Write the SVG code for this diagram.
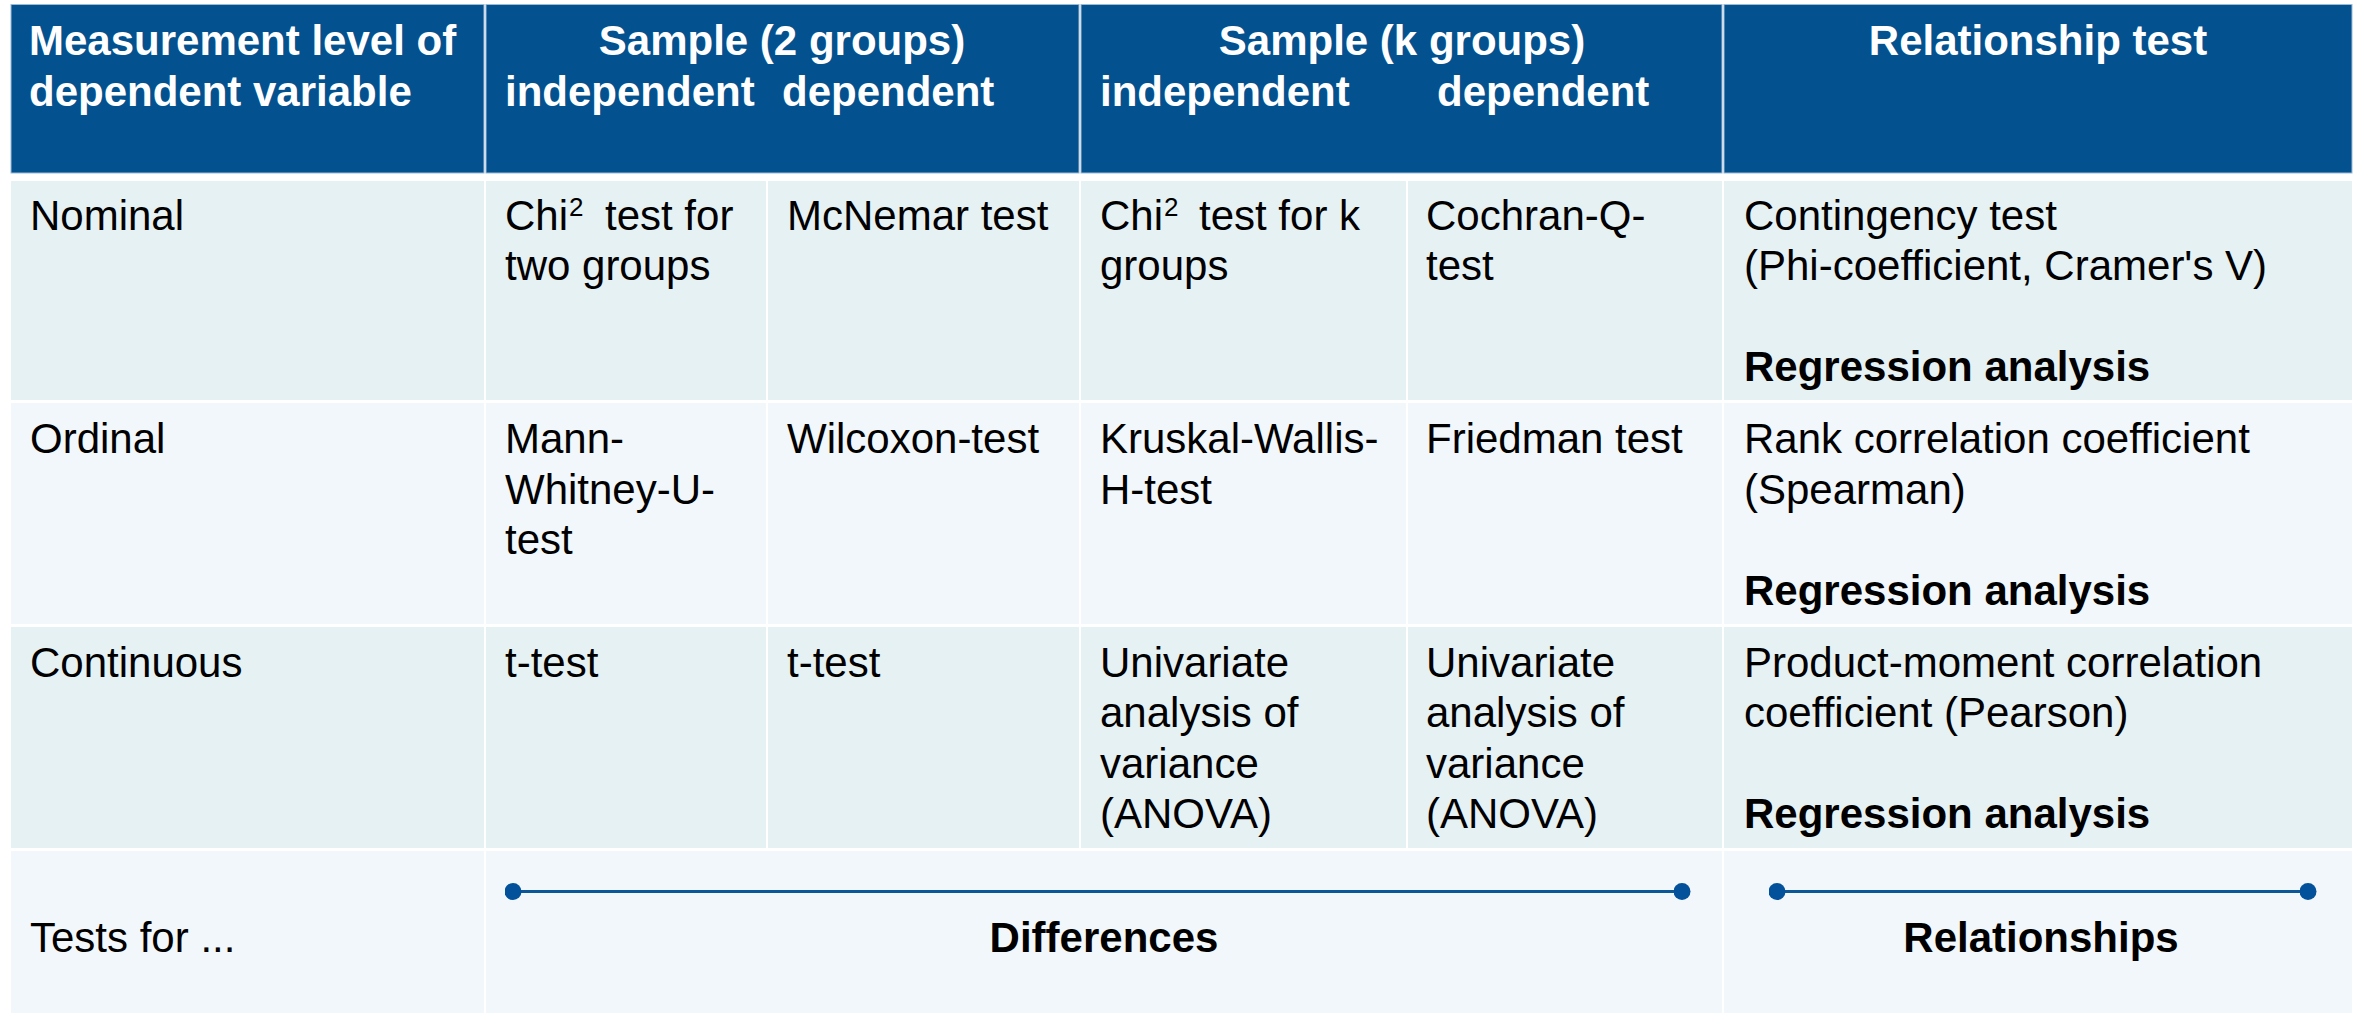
<svg xmlns="http://www.w3.org/2000/svg" width="2356" height="1017" viewBox="0 0 2356 1017">
<style>
text{font-family:"Liberation Sans",Arial,sans-serif;font-size:42px;fill:#000}
.h{fill:#03528F;stroke:#9CBAD6;stroke-width:1}
.ht{font-weight:bold;fill:#fff}
.a{fill:#E6F1F4}
.b{fill:#F1F7FA}
.bd{font-weight:bold}
.c{text-anchor:middle}
.sup{font-size:26px}
.conn{stroke:#0B5797;stroke-width:3;fill:none}
</style>
<defs>
<marker id="dot" viewBox="0 0 20 20" refX="10" refY="10" markerWidth="17" markerHeight="17" markerUnits="userSpaceOnUse"><circle cx="10" cy="10" r="10" fill="#02519A"/></marker>
</defs>
<rect width="2356" height="1017" fill="#fff"/>

<g id="header">
<g id="h-level"><rect class="h" x="11" y="4.5" width="473" height="168.5"/>
<text class="ht" x="29" y="54.5">Measurement level of</text><text class="ht" x="29" y="106">dependent variable</text></g>
<g id="h-sample2"><rect class="h" x="486" y="4.5" width="593" height="168.5"/>
<text class="ht c" x="782" y="54.5">Sample (2 groups)</text>
<text class="ht"><tspan x="505" y="106">independent</tspan><tspan x="782" y="106">dependent</tspan></text></g>
<g id="h-samplek"><rect class="h" x="1081" y="4.5" width="641" height="168.5"/>
<text class="ht c" x="1402" y="54.5">Sample (k groups)</text>
<text class="ht"><tspan x="1100" y="106">independent</tspan><tspan x="1437" y="106">dependent</tspan></text></g>
<g id="h-rel"><rect class="h" x="1724" y="4.5" width="628" height="168.5"/>
<text class="ht c" x="2038" y="54.5">Relationship test</text></g>
</g>

<g id="row-nominal">
<g id="n1"><rect class="a" x="11" y="181" width="473" height="219"/><text x="30" y="229.5">Nominal</text></g>
<g id="n2"><rect class="a" x="486" y="181" width="280" height="219"/><text><tspan x="505" y="229.5">Chi</tspan><tspan class="sup" x="569" y="216">2</tspan><tspan x="605" y="229.5">test for</tspan><tspan x="505" y="279.5">two groups</tspan></text></g>
<g id="n3"><rect class="a" x="768" y="181" width="311" height="219"/><text x="787" y="229.5">McNemar test</text></g>
<g id="n4"><rect class="a" x="1081" y="181" width="325" height="219"/><text><tspan x="1100" y="229.5">Chi</tspan><tspan class="sup" x="1164" y="216">2</tspan><tspan x="1199" y="229.5">test for k</tspan><tspan x="1100" y="279.5">groups</tspan></text></g>
<g id="n5"><rect class="a" x="1408" y="181" width="314" height="219"/><text><tspan x="1426" y="229.5">Cochran-Q-</tspan><tspan x="1426" y="279.5">test</tspan></text></g>
<g id="n6"><rect class="a" x="1724" y="181" width="628" height="219"/><text><tspan x="1744" y="229.5">Contingency test</tspan><tspan x="1744" y="279.5">(Phi-coefficient, Cramer's V)</tspan></text><text class="bd" x="1744" y="381">Regression analysis</text></g>
</g>

<g id="row-ordinal">
<g id="o1"><rect class="b" x="11" y="403" width="473" height="221"/><text x="30" y="452.7">Ordinal</text></g>
<g id="o2"><rect class="b" x="486" y="403" width="280" height="221"/><text><tspan x="505" y="452.7">Mann-</tspan><tspan x="505" y="503.5">Whitney-U-</tspan><tspan x="505" y="554">test</tspan></text></g>
<g id="o3"><rect class="b" x="768" y="403" width="311" height="221"/><text x="787" y="452.7">Wilcoxon-test</text></g>
<g id="o4"><rect class="b" x="1081" y="403" width="325" height="221"/><text><tspan x="1100" y="452.7">Kruskal-Wallis-</tspan><tspan x="1100" y="503.5">H-test</tspan></text></g>
<g id="o5"><rect class="b" x="1408" y="403" width="314" height="221"/><text x="1426" y="452.7">Friedman test</text></g>
<g id="o6"><rect class="b" x="1724" y="403" width="628" height="221"/><text><tspan x="1744" y="452.7">Rank correlation coefficient</tspan><tspan x="1744" y="503.5">(Spearman)</tspan></text><text class="bd" x="1744" y="605">Regression analysis</text></g>
</g>

<g id="row-continuous">
<g id="c1"><rect class="a" x="11" y="627" width="473" height="221"/><text x="30" y="676.7">Continuous</text></g>
<g id="c2"><rect class="a" x="486" y="627" width="280" height="221"/><text x="505" y="676.7">t-test</text></g>
<g id="c3"><rect class="a" x="768" y="627" width="311" height="221"/><text x="787" y="676.7">t-test</text></g>
<g id="c4"><rect class="a" x="1081" y="627" width="325" height="221"/><text><tspan x="1100" y="676.7">Univariate</tspan><tspan x="1100" y="727">analysis of</tspan><tspan x="1100" y="778">variance</tspan><tspan x="1100" y="828.3">(ANOVA)</tspan></text></g>
<g id="c5"><rect class="a" x="1408" y="627" width="314" height="221"/><text><tspan x="1426" y="676.7">Univariate</tspan><tspan x="1426" y="727">analysis of</tspan><tspan x="1426" y="778">variance</tspan><tspan x="1426" y="828.3">(ANOVA)</tspan></text></g>
<g id="c6"><rect class="a" x="1724" y="627" width="628" height="221"/><text><tspan x="1744" y="676.7">Product-moment correlation</tspan><tspan x="1744" y="727">coefficient (Pearson)</tspan></text><text class="bd" x="1744" y="828.3">Regression analysis</text></g>
</g>

<g id="row-tests">
<g id="t1"><rect class="b" x="11" y="851" width="473" height="162"/><text x="30" y="951.7">Tests for ...</text></g>
<g id="t2"><rect class="b" x="486" y="851" width="1236" height="162"/><text class="bd c" x="1104" y="951.7">Differences</text></g>
<g id="t3"><rect class="b" x="1724" y="851" width="628" height="162"/><text class="bd c" x="2041" y="951.7">Relationships</text></g>
</g>

<g id="connectors">
<line class="conn" x1="513" y1="891.5" x2="1682" y2="891.5" marker-start="url(#dot)" marker-end="url(#dot)"/>
<line class="conn" x1="1777" y1="891.5" x2="2308" y2="891.5" marker-start="url(#dot)" marker-end="url(#dot)"/>
</g>
</svg>
